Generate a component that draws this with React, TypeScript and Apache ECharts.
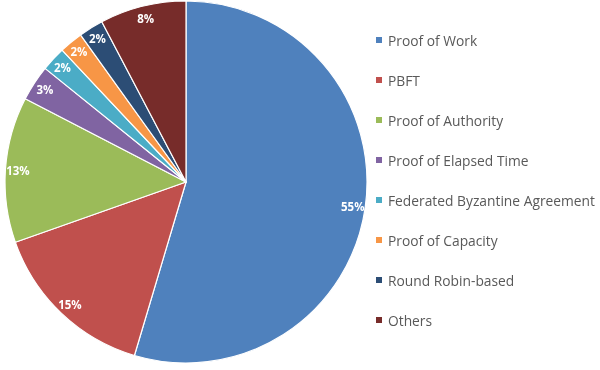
import React, { useEffect, useRef } from "react";
import * as echarts from "echarts";

const categories = [
  "Proof of Work",
  "PBFT",
  "Proof of Authority",
  "Proof of Elapsed Time",
  "Federated Byzantine Agreement",
  "Proof of Capacity",
  "Round Robin-based",
  "Others",
];
const shares = [54.6, 15.0, 13.0, 3.2, 2.2, 2.1, 2.2, 7.7];
const colors = ["#4F81BD", "#C0504D", "#9BBB59", "#8064A2", "#4BACC6", "#F79646", "#2C4D75", "#772C2A"];

export default function App() {
  const ref = useRef<HTMLDivElement>(null);
  useEffect(() => {
    if (!ref.current) return;
    const chart = echarts.init(ref.current, null, { renderer: "svg" });
    const data = categories.map((name, i) => ({ name, value: shares[i] }));
    chart.setOption({
      animation: false,
      color: colors,
      legend: {
        orient: "vertical",
        left: 369,
        top: 27,
        icon: "rect",
        itemWidth: 8,
        itemHeight: 8,
        itemGap: 24,
        data: categories,
        textStyle: { fontFamily: "Open Sans", fontSize: 13.8, color: "#595959", lineHeight: 16 },
        selectedMode: false,
      },
      series: [
        {
          type: "pie",
          center: [186, 182],
          radius: [0, 181],
          startAngle: 90,
          clockwise: true,
          data,
          itemStyle: { borderColor: "#ffffff", borderWidth: 1.2 },
          label: { show: false },
          labelLine: { show: false },
          silent: true,
        },
        {
          type: "pie",
          center: [186, 182],
          radius: [150, 181],
          startAngle: 90,
          clockwise: true,
          data,
          itemStyle: { color: "rgba(0,0,0,0)", borderWidth: 0 },
          label: {
            show: true,
            position: "inside",
            rotate: 0,
            color: "#ffffff",
            fontWeight: "bold",
            fontFamily: "Open Sans",
            fontSize: 11.5,
            formatter: (p: any) => Math.round(p.value) + "%",
          },
          labelLine: { show: false },
          silent: true,
        },
      ],
    });
    return () => chart.dispose();
  }, []);
  return <div ref={ref} style={{ position: "fixed", left: 0, top: 0, width: 600, height: 370 }} />;
}
